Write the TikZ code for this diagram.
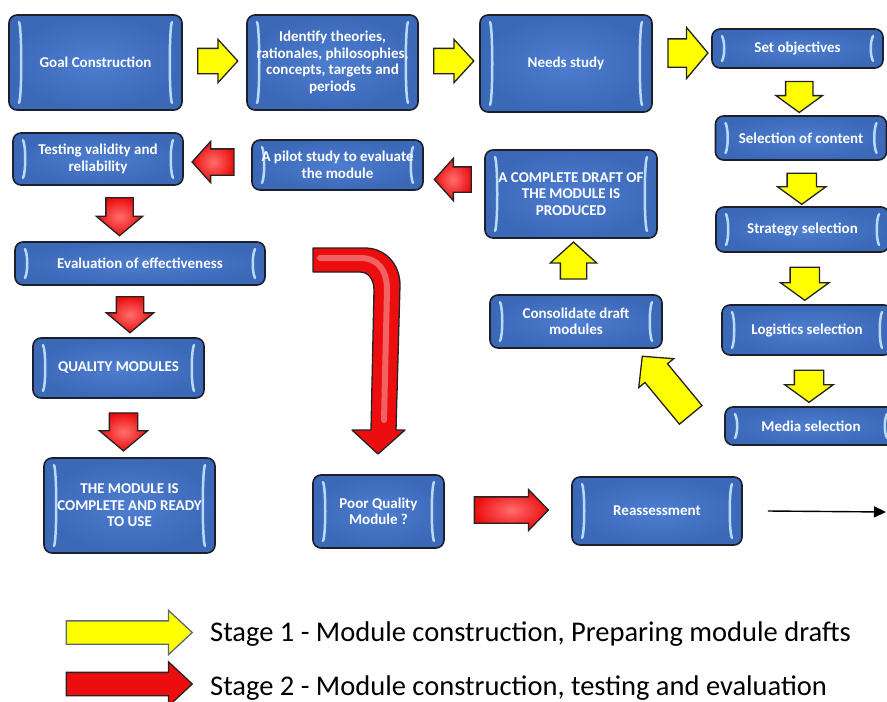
\documentclass[tikz,border=0pt]{standalone}
\usepackage{fontspec}
\setmainfont{Carlito}
\usetikzlibrary{shapes.arrows,arrows.meta,calc}
\definecolor{boxin}{RGB}{78,126,208}
\definecolor{boxout}{RGB}{60,104,184}
\definecolor{boxedge}{RGB}{28,32,44}
\definecolor{barcol}{RGB}{185,218,246}
\definecolor{yfill}{RGB}{255,255,0}
\definecolor{rfill}{RGB}{236,14,14}
\definecolor{rlight}{RGB}{255,110,110}
\definecolor{aedge}{RGB}{35,35,35}
\definecolor{legedge}{RGB}{95,105,115}
\tikzset{
  mbox/.style={rectangle, rounded corners=8pt, draw=boxedge, line width=1.6pt,
    inner color=boxin, outer color=boxout, text=white, align=center,
    font=\fontsize{15}{16.5}\selectfont\bfseries, inner sep=2pt,
    path picture={
      \draw[barline] ([xshift=10pt,yshift=-7pt]path picture bounding box.north west)
        .. controls +(3pt,-6pt) and +(3pt,6pt) ..
        ([xshift=10pt,yshift=7pt]path picture bounding box.south west);
      \draw[barline] ([xshift=-10pt,yshift=-7pt]path picture bounding box.north east)
        .. controls +(-3pt,-6pt) and +(-3pt,6pt) ..
        ([xshift=-10pt,yshift=7pt]path picture bounding box.south east);
    }},
  barline/.style={draw=barcol, line width=2.5pt, line cap=round},
  blockarr/.style={single arrow, draw=aedge, line width=1.3pt, inner xsep=0pt,
    single arrow head indent=0pt},
  yarr/.style={blockarr, fill=yfill},
  rarr/.style={blockarr, inner color=rlight, outer color=rfill},
  adim/.style n args={5}{minimum height=#1pt, minimum width=#2pt,
    inner ysep=#3pt/2, single arrow head extend=#4pt, single arrow tip angle=#5},
  legtext/.style={anchor=base west, font=\fontsize{28.5}{30}\selectfont, text=black, inner sep=0pt},
}
\begin{document}
\begin{tikzpicture}[x=1pt,y=-1pt]
\useasboundingbox (0,0) rectangle (887,702);
\fill[white] (0,0) rectangle (887,702);

% boxes
\node[mbox, minimum width=173pt, minimum height=95pt] (goal) at (95.5,62.5) {Goal Construction};
\node[mbox, minimum width=171pt, minimum height=95pt] (ident) at (332.5,62.5) {Identify theories,\\rationales, philosophies,\\concepts, targets and\\periods};
\node[mbox, minimum width=172pt, minimum height=97pt] (needs) at (566,63.5) {Needs study};
\node[mbox, minimum width=171pt, minimum height=39pt] (setobj) at (797.5,48.5) {Set objectives};
\node[mbox, minimum width=171pt, minimum height=44pt] (content) at (801,138) {Selection of content};
\node[mbox, minimum width=173pt, minimum height=45pt] (strat) at (802.5,229.5) {Strategy selection};
\node[mbox, minimum width=170pt, minimum height=50pt] (logis) at (807,330) {Logistics selection};
\node[mbox, minimum width=172pt, minimum height=38pt] (media) at (811,426) {Media selection};
\node[mbox, minimum width=172pt, minimum height=53pt] (consol) at (576,321.5) {Consolidate draft\\modules};
\node[mbox, minimum width=172pt, minimum height=88pt] (draft) at (571,194) {A COMPLETE DRAFT OF\\THE MODULE IS\\PRODUCED};
\node[mbox, minimum width=171pt, minimum height=50pt] (pilot) at (337.5,165) {A pilot study to evaluate\\the module};
\node[mbox, minimum width=170pt, minimum height=52pt] (test) at (98,159) {Testing validity and\\reliability};
\node[mbox, minimum width=250pt, minimum height=43pt] (evalb) at (140,263.5) {Evaluation of effectiveness};
\node[mbox, minimum width=171pt, minimum height=60pt] (quality) at (118.5,368) {QUALITY MODULES};
\node[mbox, minimum width=171pt, minimum height=95pt] (complete) at (129.5,505.5) {THE MODULE IS\\COMPLETE AND READY\\TO USE};
\node[mbox, minimum width=131pt, minimum height=73pt] (poor) at (378.5,511.5) {Poor Quality\\Module ?};
\node[mbox, minimum width=170pt, minimum height=68pt] (reass) at (657,511) {Reassessment};

% yellow block arrows (stage 1)
\node[yarr, adim={40}{42}{24}{9}{95}] (a12) at (212,61) {};
\node[yarr, adim={40}{42}{24}{9}{95}] (a23) at (448,61) {};
\node[yarr, adim={40}{50}{27}{11.5}{100}] (a34) at (682,53) {};
\node[yarr, adim={31}{45}{26}{9.5}{108}, rotate=-90] (a45) at ($(setobj.south)!0.5!(content.north)$) {};
\node[yarr, adim={31}{47}{28}{9.5}{108}, rotate=-90] (a56) at ($(content.south)!0.5!(strat.north)$) {};
\node[yarr, adim={33}{47}{28}{9.5}{108}, rotate=-90] (a67) at ($(strat.south)!0.5!(logis.north)$) {};
\node[yarr, adim={32}{47}{28}{9.5}{108}, rotate=-90] (a78) at ($(logis.south)!0.5!(media.north)$) {};
\node[yarr, adim={76}{44}{28}{8}{92}, rotate=129.6] (amc) at (671,391) {};
\node[yarr, adim={37}{45}{25}{10}{96}, rotate=90] (acd) at ($(consol.north)!0.5!(draft.south)$) {};

% red block arrows (stage 2)
\node[rarr, adim={37}{41}{24}{8.5}{96}, rotate=180] (rdp) at (458.5,179.5) {};
\node[rarr, adim={42}{40}{25}{7.5}{96}, rotate=180] (rpt) at (219,162) {};
\node[rarr, adim={38}{45}{26}{9.5}{100}, rotate=-90] (rte) at (119.5,211) {};
\node[rarr, adim={36}{46}{26}{10}{100}, rotate=-90] (req) at (130,309) {};
\node[rarr, adim={38}{47}{27}{10}{100}, rotate=-90] (rqc) at (123.5,426) {};
\node[rarr, adim={74}{40}{25}{7.5}{92}] (rpr) at (505,510) {};

% bent red arrow from evaluation towards poor quality module
\fill[rfill] (313,248) -- (365,248) .. controls (385,248) and (400,264) .. (400,285)
  -- (396,430) -- (405,430) -- (378,454) -- (352,430) -- (371,430) -- (374,290)
  .. controls (374,280) and (369,272) .. (360,272) -- (313,272) -- cycle;
\draw[white, opacity=0.35, line width=6pt, line cap=round]
  (320,258) -- (360,258) .. controls (378,258) and (387,270) .. (387,290) -- (384,420);
\draw[aedge, line width=1.3pt, line join=round] (313,248) -- (365,248) .. controls (385,248) and (400,264) .. (400,285)
  -- (396,430) -- (405,430) -- (378,454) -- (352,430) -- (371,430) -- (374,290)
  .. controls (374,280) and (369,272) .. (360,272) -- (313,272) -- cycle;

% thin arrow after reassessment
\coordinate (lend) at (886,512);
\draw[black, line width=1.4pt, -{Triangle[length=12pt,width=11pt]}] ([xshift=25pt]reass.east) -- (lend);

% legend
\node[blockarr, draw=legedge, fill=yfill, adim={126}{43}{22}{10.5}{86}] (leg1) at (123,632.5) {};
\node[blockarr, fill=rfill, adim={126}{43}{22}{10.5}{86}] (leg2) at (123,684) {};
\node[legtext] (t1) at (210,641) {Stage 1 - Module construction, Preparing module drafts};
\node[legtext] (t2) at (210,695) {Stage 2 - Module construction, testing and evaluation};
\end{tikzpicture}
\end{document}
